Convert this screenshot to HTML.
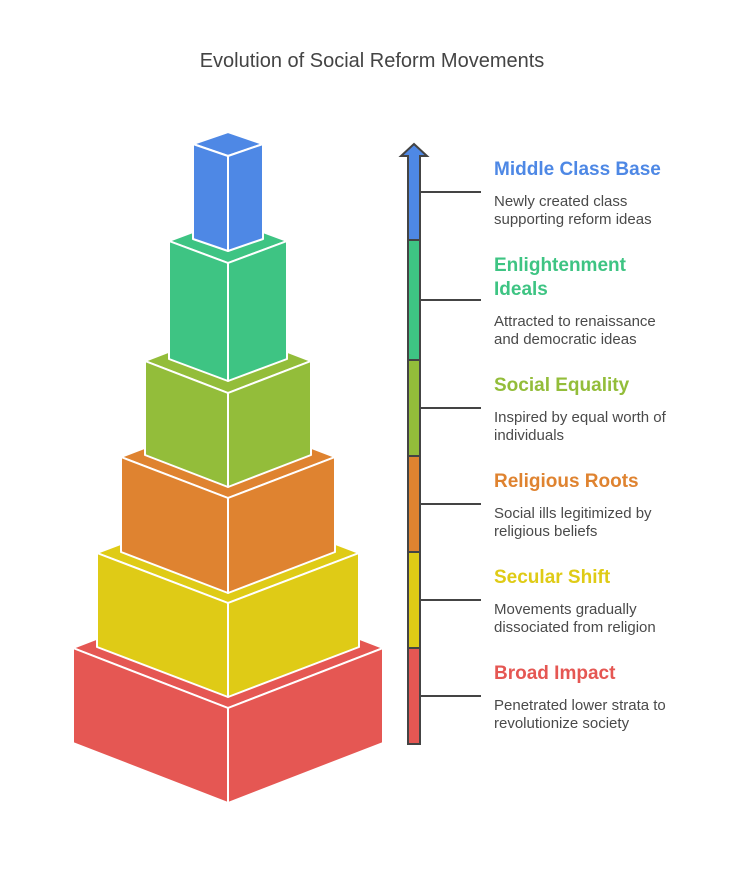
<!DOCTYPE html>
<html><head><meta charset="utf-8"><style>
html,body{margin:0;padding:0;background:#fff}
svg{display:block}
text{font-family:"Liberation Sans",sans-serif}
.h{font-size:19px;font-weight:bold}
.b{font-size:15px;fill:#4a4a4a}
</style></head><body>
<svg width="744" height="876" viewBox="0 0 744 876" xmlns="http://www.w3.org/2000/svg">
<rect width="744" height="876" fill="#fff"/>
<text x="372" y="67" text-anchor="middle" font-size="20" fill="#444">Evolution of Social Reform Movements</text>
<g stroke="#fff" stroke-width="2" stroke-linejoin="round">
<g fill="#E55753">
<polygon points="73,648 228,588 383,648 228,708"/>
<polygon points="73,648 228,708 228,803 73,743"/>
<polygon points="383,648 228,708 228,803 383,743"/>
</g>
<g fill="#DFCB16">
<polygon points="97,553 228,503 359,553 228,603"/>
<polygon points="97,553 228,603 228,697 97,647"/>
<polygon points="359,553 228,603 228,697 359,647"/>
</g>
<g fill="#DF8330">
<polygon points="121,457 228,416 335,457 228,498"/>
<polygon points="121,457 228,498 228,593 121,552"/>
<polygon points="335,457 228,498 228,593 335,552"/>
</g>
<g fill="#93BD3A">
<polygon points="145,361 228,329 311,361 228,393"/>
<polygon points="145,361 228,393 228,487 145,455"/>
<polygon points="311,361 228,393 228,487 311,455"/>
</g>
<g fill="#3EC483">
<polygon points="169,241 228,219 287,241 228,263"/>
<polygon points="169,241 228,263 228,381 169,359"/>
<polygon points="287,241 228,263 228,381 287,359"/>
</g>
<g fill="#4E88E5">
<polygon points="193,144 228,132 263,144 228,156"/>
<polygon points="193,144 228,156 228,251 193,239"/>
<polygon points="263,144 228,156 228,251 263,239"/>
</g>
</g>
<g stroke="#444" stroke-width="2">
<rect x="408" y="648" width="12" height="96" fill="#E55753"/>
<rect x="408" y="552" width="12" height="96" fill="#DFCB16"/>
<rect x="408" y="456" width="12" height="96" fill="#DF8330"/>
<rect x="408" y="360" width="12" height="96" fill="#93BD3A"/>
<rect x="408" y="240" width="12" height="120" fill="#3EC483"/>
<polygon points="408,240 408,156 401,156 414,144 427,156 420,156 420,240" fill="#4E88E5" stroke-linejoin="miter"/>
<line x1="420" y1="192" x2="481" y2="192"/>
<line x1="420" y1="300" x2="481" y2="300"/>
<line x1="420" y1="408" x2="481" y2="408"/>
<line x1="420" y1="504" x2="481" y2="504"/>
<line x1="420" y1="600" x2="481" y2="600"/>
<line x1="420" y1="696" x2="481" y2="696"/>
</g>
<text class="h" x="494" y="175" fill="#4E88E5">Middle Class Base</text>
<text class="b" x="494" y="206">Newly created class</text>
<text class="b" x="494" y="224">supporting reform ideas</text>
<text class="h" x="494" y="271" fill="#3EC483">Enlightenment</text>
<text class="h" x="494" y="295" fill="#3EC483">Ideals</text>
<text class="b" x="494" y="326">Attracted to renaissance</text>
<text class="b" x="494" y="344">and democratic ideas</text>
<text class="h" x="494" y="391" fill="#93BD3A">Social Equality</text>
<text class="b" x="494" y="422">Inspired by equal worth of</text>
<text class="b" x="494" y="440">individuals</text>
<text class="h" x="494" y="487" fill="#DF8330">Religious Roots</text>
<text class="b" x="494" y="518">Social ills legitimized by</text>
<text class="b" x="494" y="536">religious beliefs</text>
<text class="h" x="494" y="583" fill="#DFCB16">Secular Shift</text>
<text class="b" x="494" y="614">Movements gradually</text>
<text class="b" x="494" y="632">dissociated from religion</text>
<text class="h" x="494" y="679" fill="#E55753">Broad Impact</text>
<text class="b" x="494" y="710">Penetrated lower strata to</text>
<text class="b" x="494" y="728">revolutionize society</text>
</svg>
</body></html>
